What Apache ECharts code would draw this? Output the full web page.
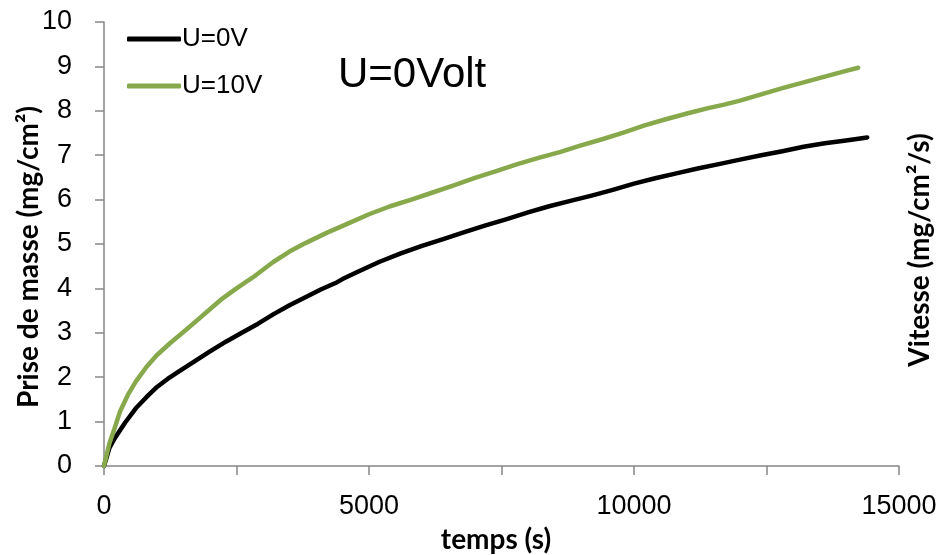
<!DOCTYPE html>
<html>
<head>
<meta charset="utf-8">
<script src="https://cdn.jsdelivr.net/npm/echarts@6/dist/echarts.min.js"></script>
<style>html,body{margin:0;padding:0;background:#fff}#c{width:943px;height:555px}</style>
</head>
<body>
<div id="c"></div>
<script>
var seriesNames = ['U=0V', 'U=10V'];
var chartTitle = 'U=0Volt';
var xAxisTitle = 'temps (s)';
var yAxisTitle = 'Prise de masse (mg/cm²)';
var y2AxisTitle = 'Vitesse (mg/cm²/s)';
var xTicks = [0, 5000, 10000, 15000];
var yTicks = [0, 1, 2, 3, 4, 5, 6, 7, 8, 9, 10];

var dataU0 = [[0,0],[100,0.40],[200,0.62],[400,0.98],[600,1.30],[800,1.55],[1000,1.78],[1200,1.96],[1400,2.12],[1700,2.35],[2000,2.58],[2300,2.80],[2600,3.00],[2900,3.20],[3200,3.42],[3500,3.62],[3800,3.80],[4100,3.98],[4400,4.14],[4500,4.21],[4800,4.38],[5200,4.60],[5600,4.79],[6000,4.96],[6400,5.11],[6800,5.27],[7200,5.42],[7600,5.56],[8000,5.71],[8400,5.85],[8800,5.97],[9200,6.09],[9600,6.22],[10000,6.36],[10400,6.48],[10800,6.59],[11200,6.70],[11600,6.80],[12000,6.90],[12400,7.00],[12800,7.09],[13200,7.19],[13600,7.27],[14000,7.33],[14400,7.40]];

var dataU10 = [[0,0],[100,0.50],[200,0.85],[300,1.22],[450,1.60],[600,1.90],[800,2.23],[1000,2.50],[1250,2.77],[1600,3.12],[1900,3.43],[2200,3.74],[2500,4.00],[2800,4.24],[3000,4.42],[3200,4.60],[3500,4.83],[3800,5.02],[4200,5.25],[4600,5.46],[5000,5.67],[5400,5.85],[5800,6.00],[6200,6.16],[6600,6.32],[7000,6.49],[7400,6.64],[7800,6.80],[8200,6.94],[8600,7.07],[9000,7.22],[9400,7.36],[9800,7.51],[10200,7.67],[10600,7.81],[11000,7.94],[11400,8.06],[11700,8.14],[12000,8.23],[12400,8.37],[12800,8.51],[13200,8.64],[13600,8.77],[14000,8.90],[14230,8.97]];

var chart = echarts.init(document.getElementById('c'), null, {renderer: 'canvas'});
var axisGrey = '#868686';
var titleFont = 'Lato, "Open Sans", sans-serif';
var tickFont = '"Liberation Sans", Arial, sans-serif';
var axisTitleStyle = {fontFamily: titleFont, fontSize: 28, fontWeight: 'bold', fill: '#000', align: 'center', verticalAlign: 'middle'};

chart.setOption({
  animation: false,
  backgroundColor: '#fff',
  title: {
    text: chartTitle,
    left: 333, top: 49,
    textStyle: {fontFamily: tickFont, fontSize: 42, fontWeight: 'normal', color: '#000'}
  },
  legend: {
    orient: 'vertical', left: 122, top: 19,
    itemWidth: 54, itemHeight: 5, itemGap: 17, icon: 'roundRect',
    textStyle: {fontFamily: tickFont, fontSize: 26, color: '#000', lineHeight: 30, padding: [0,0,0,-4]},
    data: seriesNames
  },
  grid: {left: 104, right: 44, top: 22, bottom: 89, containLabel: false, outerBoundsMode: 'none'},
  xAxis: {
    type: 'value', min: 0, max: 15000, interval: 2500,
    axisLine: {show: true, lineStyle: {color: axisGrey, width: 1.5}},
    axisTick: {show: true, inside: false, length: 9, lineStyle: {color: axisGrey, width: 1.5}},
    axisLabel: {
      fontFamily: tickFont, fontSize: 27, color: '#000', margin: 27,
      formatter: function (v) { return xTicks.indexOf(v) >= 0 ? String(v) : ''; }
    },
    splitLine: {show: false}
  },
  yAxis: {
    type: 'value', min: 0, max: 10, interval: 1,
    axisLine: {show: true, lineStyle: {color: axisGrey, width: 1.5}},
    axisTick: {show: true, inside: false, length: 9, lineStyle: {color: axisGrey, width: 1.5}},
    axisLabel: {
      fontFamily: tickFont, fontSize: 27, color: '#000', margin: 32,
      formatter: function (v) { return yTicks.indexOf(v) >= 0 ? String(v) : ''; }
    },
    splitLine: {show: false}
  },
  graphic: [
    {type: 'text', x: 29, y: 257, rotation: Math.PI / 2, style: Object.assign({text: yAxisTitle}, axisTitleStyle)},
    {type: 'text', x: 920, y: 250, rotation: Math.PI / 2, style: Object.assign({text: y2AxisTitle}, axisTitleStyle)},
    {type: 'text', x: 496, y: 540, style: Object.assign({text: xAxisTitle}, axisTitleStyle)}
  ],
  series: [{
    name: seriesNames[0], type: 'line', data: dataU0, showSymbol: false, symbol: 'none',
    lineStyle: {color: '#000', width: 4.5, cap: 'round', join: 'round'},
    itemStyle: {color: '#000'}
  }, {
    name: seriesNames[1], type: 'line', data: dataU10, showSymbol: false, symbol: 'none',
    lineStyle: {color: '#88A94B', width: 4.5, cap: 'round', join: 'round'},
    itemStyle: {color: '#88A94B'}
  }]
});
</script>
</body>
</html>
